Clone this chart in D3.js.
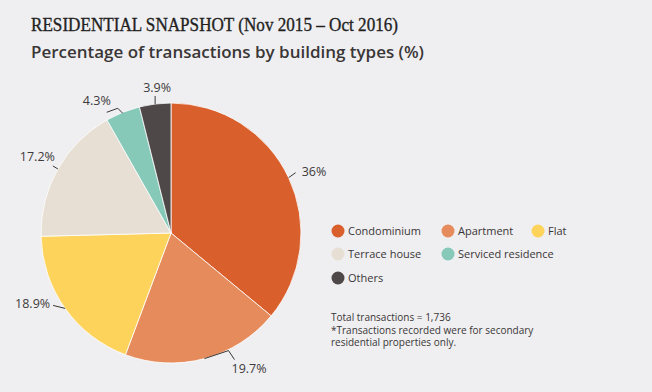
<!DOCTYPE html>
<html>
<head>
<meta charset="utf-8">
<script src="https://cdn.jsdelivr.net/npm/d3@7"></script>
<style>
  html, body { margin: 0; padding: 0; background: #efeff1; }
  svg { display: block; }
</style>
</head>
<body>
<svg id="chart" width="652" height="392"></svg>
<script>
const categories = ["Condominium", "Apartment", "Flat", "Terrace house", "Serviced residence", "Others"];
const values = [36, 19.7, 18.9, 17.2, 4.3, 3.9];
const valueLabels = ["36%", "19.7%", "18.9%", "17.2%", "4.3%", "3.9%"];
const colors = ["#d9602c", "#e58b5c", "#fdd35c", "#e7dfd4", "#86c9b9", "#4f4848"];

const svg = d3.select("#chart");
svg.append("rect").attr("width", 652).attr("height", 392).attr("fill", "#efeff1");

svg.append("text")
  .attr("x", 31).attr("y", 31)
  .attr("font-family", "Liberation Serif, DejaVu Serif, serif")
  .attr("font-size", 19).attr("font-weight", "normal")
  .attr("fill", "#241f1f").attr("stroke", "#241f1f").attr("stroke-width", 0.35)
  .attr("textLength", 367).attr("lengthAdjust", "spacingAndGlyphs")
  .text("RESIDENTIAL SNAPSHOT (Nov 2015 – Oct 2016)");

svg.append("text")
  .attr("x", 31).attr("y", 58)
  .attr("font-family", "Open Sans, Noto Sans, sans-serif")
  .attr("font-size", 16).attr("font-weight", 600)
  .attr("fill", "#3a3636")
  .attr("textLength", 393).attr("lengthAdjust", "spacingAndGlyphs")
  .text("Percentage of transactions by building types (%)");

const cx = 171, cy = 233, R = 130;
const pie = d3.pie().sort(null).value(d => d)(values);
const arc = d3.arc().innerRadius(0).outerRadius(R);
const g = svg.append("g").attr("transform", `translate(${cx},${cy})`);

g.selectAll("path.slice").data(pie).enter().append("path")
  .attr("class", "slice")
  .attr("d", arc)
  .attr("fill", (d, i) => colors[i])
  .attr("stroke", "#ffffff").attr("stroke-width", 0.8);

// label layout (leader shape per slice, relative to edge point)
const layout = [
  { lead: [[0,0],[7,-5]], tx: 13, ty: -2, anchor: "start" },
  { lead: [[0,0],[24,-8],[30,1]], tx: 27, ty: 14, anchor: "start" },
  { lead: [[0,0],[-12,-3]], tx: -15, ty: 0, anchor: "end" },
  { lead: [[0,0],[-5,-3]], tx: -3, ty: -8, anchor: "end" },
  { lead: [[0,1],[-5,-4],[-16,0]], tx: -12, ty: -7, anchor: "end" },
  { lead: [[0,0],[0,-8]], tx: 2, ty: -12, anchor: "middle" }
];

pie.forEach((d, i) => {
  const a = (d.startAngle + d.endAngle) / 2;
  const px = cx + R * Math.sin(a), py = cy - R * Math.cos(a);
  const L = layout[i];
  svg.append("path")
    .attr("d", d3.line()(L.lead.map(p => [px + p[0], py + p[1]])))
    .attr("fill", "none").attr("stroke", "#3a3636").attr("stroke-width", 1);
  svg.append("text")
    .attr("x", px + L.tx).attr("y", py + L.ty)
    .attr("text-anchor", L.anchor)
    .attr("font-family", "Open Sans, Noto Sans, sans-serif")
    .attr("font-size", 12.5).attr("fill", "#3e3a3a")
    .text(valueLabels[i]);
});

// legend
const legendPos = [[338,231],[448,231],[538,231],[338,254],[448,254],[338,278]];
const lg = svg.append("g");
categories.forEach((c, i) => {
  const [x, y] = legendPos[i];
  lg.append("circle").attr("cx", x).attr("cy", y).attr("r", 6.5).attr("fill", colors[i]);
  lg.append("text").attr("x", x + 10).attr("y", y + 4)
    .attr("font-family", "Open Sans, Noto Sans, sans-serif")
    .attr("font-size", 11).attr("fill", "#3a3636")
    .text(c);
});

const notes = ["Total transactions = 1,736", "*Transactions recorded were for secondary", "residential properties only."];
notes.forEach((t, i) => {
  svg.append("text").attr("x", 331).attr("y", 321 + i * 12.5)
    .attr("font-family", "Open Sans, Noto Sans, sans-serif")
    .attr("font-size", 10).attr("fill", "#3a3636")
    .text(t);
});
</script>
</body>
</html>
